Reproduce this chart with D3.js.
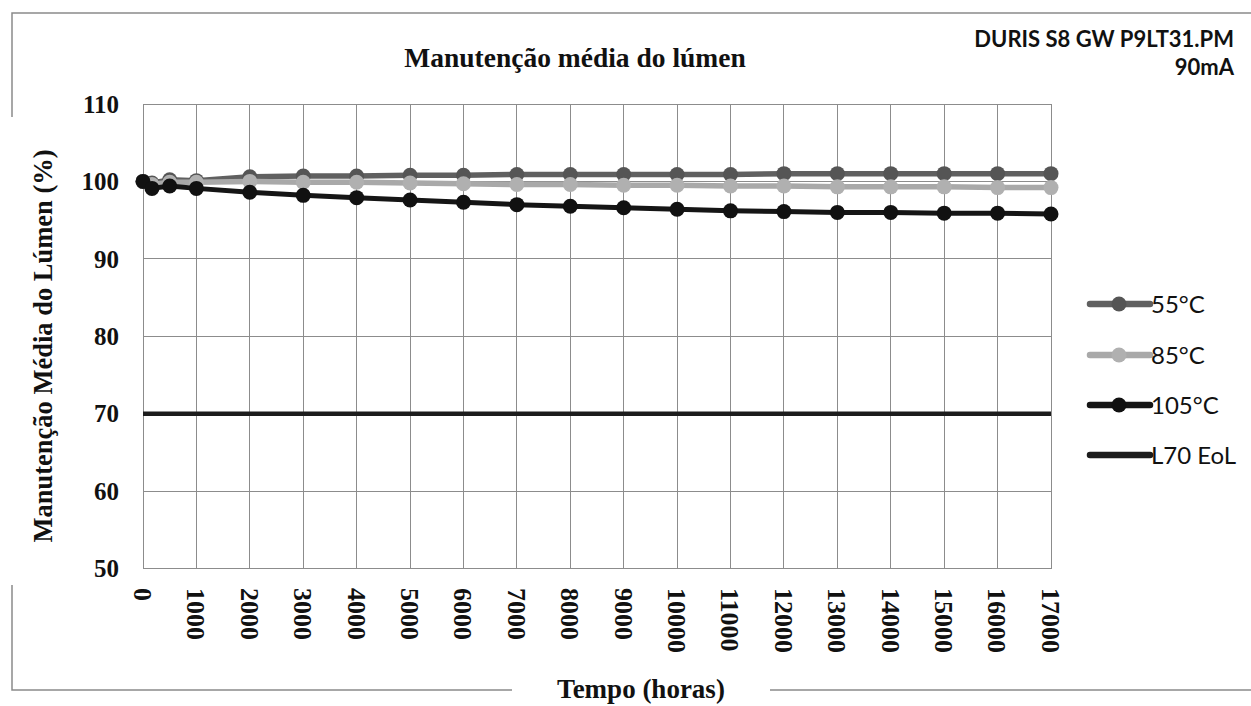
<!DOCTYPE html>
<html>
<head>
<meta charset="utf-8">
<script src="https://cdn.jsdelivr.net/npm/d3@7"></script>
<style>
  html, body { margin: 0; padding: 0; background: #fff; }
  svg { display: block; }
</style>
</head>
<body>
<svg id="chart" width="1251" height="706"></svg>
<script>
// ---- data ----
const hours = [0, 168, 500, 1000, 2000, 3000, 4000, 5000, 6000, 7000, 8000, 9000, 10000, 11000, 12000, 13000, 14000, 15000, 16000, 17000];
const s55  = [100, 99.8, 100.2, 100.1, 100.6, 100.7, 100.7, 100.8, 100.8, 100.9, 100.9, 100.9, 100.9, 100.9, 101.0, 101.0, 101.0, 101.0, 101.0, 101.0];
const s85  = [100, 99.6, 99.9, 99.9, 100.0, 99.9, 99.9, 99.8, 99.7, 99.6, 99.6, 99.5, 99.5, 99.4, 99.4, 99.3, 99.3, 99.3, 99.2, 99.2];
const s105 = [100, 99.1, 99.4, 99.1, 98.6, 98.2, 97.9, 97.6, 97.3, 97.0, 96.8, 96.6, 96.4, 96.2, 96.1, 96.0, 96.0, 95.9, 95.9, 95.8];
const l70Hours = [0, 17000];
const l70 = [70, 70];
const seriesNames = ["55°C", "85°C", "105°C", "L70 EoL"];
const xTicks = d3.range(0, 17001, 1000);
const yTicks = [50, 60, 70, 80, 90, 100, 110];
const title = "Manutenção média do lúmen";
const xTitle = "Tempo (horas)";
const yTitle = "Manutenção Média do Lúmen (%)";
const noteLines = ["DURIS S8 GW P9LT31.PM", "90mA"];

// ---- layout ----
const svg = d3.select("#chart");
const serif = "'Liberation Serif', 'Times New Roman', serif";
const sans = "Lato, 'Open Sans', 'Liberation Sans', sans-serif";
const x = d3.scaleLinear().domain([0, 17000]).range([143, 1051]);
const y = d3.scaleLinear().domain([50, 110]).range([568.5, 104]);

// outer frame (with gaps around axis titles)
const frame = svg.append("g").attr("stroke", "#8a8a8a").attr("stroke-width", 1.5).attr("fill", "none");
frame.append("path").attr("d", "M12,117 L12,13 L1251,13");
frame.append("path").attr("d", "M12,585 L12,690 L512,690");
frame.append("path").attr("d", "M770,690 L1251,690");

// grid
const grid = svg.append("g").attr("stroke", "#8c8c8c").attr("stroke-width", 1).attr("shape-rendering", "crispEdges");
grid.selectAll("line.v").data(xTicks).join("line")
  .attr("x1", d => x(d)).attr("x2", d => x(d)).attr("y1", y(110)).attr("y2", y(50));
grid.selectAll("line.h").data(yTicks).join("line")
  .attr("y1", d => y(d)).attr("y2", d => y(d)).attr("x1", x(0)).attr("x2", x(17000));

// y axis tick labels
svg.append("g").selectAll("text").data(yTicks).join("text")
  .attr("x", 119).attr("y", d => y(d)).attr("dy", "0.35em")
  .attr("text-anchor", "end")
  .attr("font-family", serif).attr("font-weight", "bold").attr("font-size", 25)
  .attr("fill", "#111").text(d => d);

// x axis tick labels (rotated)
svg.append("g").selectAll("text").data(xTicks).join("text")
  .attr("transform", d => `translate(${x(d)},588) rotate(90)`)
  .attr("dy", "0.35em")
  .attr("text-anchor", "start")
  .attr("font-family", serif).attr("font-weight", "bold").attr("font-size", 26)
  .attr("fill", "#111").text(d => d);

// titles
svg.append("text").attr("x", 575).attr("y", 67).attr("text-anchor", "middle")
  .attr("font-family", serif).attr("font-weight", "bold").attr("font-size", 27.5)
  .attr("fill", "#111").text(title);
svg.append("text").attr("x", 641).attr("y", 698).attr("text-anchor", "middle")
  .attr("font-family", serif).attr("font-weight", "bold").attr("font-size", 27)
  .attr("fill", "#111").text(xTitle);
svg.append("text").attr("transform", "translate(52,346) rotate(-90)").attr("text-anchor", "middle")
  .attr("font-family", serif).attr("font-weight", "bold").attr("font-size", 26.5)
  .attr("fill", "#111").text(yTitle);

// note top-right
svg.append("text").attr("x", 1234).attr("y", 47).attr("text-anchor", "end")
  .attr("font-family", sans).attr("font-weight", "bold").attr("font-size", 22)
  .attr("fill", "#111").text(noteLines[0]);
svg.append("text").attr("x", 1234).attr("y", 75).attr("text-anchor", "end")
  .attr("font-family", sans).attr("font-weight", "bold").attr("font-size", 22)
  .attr("fill", "#111").text(noteLines[1]);

// series
const series = [
  { name: seriesNames[0], xs: hours, ys: s55, color: "#606060", marker: "#555", width: 5.5, r: 7.5 },
  { name: seriesNames[1], xs: hours, ys: s85, color: "#a9a9a9", marker: "#b0b0b0", width: 5.5, r: 7.5 },
  { name: seriesNames[2], xs: hours, ys: s105, color: "#151515", marker: "#111", width: 5, r: 7.5 },
  { name: seriesNames[3], xs: l70Hours, ys: l70, color: "#1c1c1c", marker: null, width: 4.5, r: 0 }
];
const line = d3.line().x(d => x(d[0])).y(d => y(d[1]));
series.forEach(s => {
  const pts = s.xs.map((h, i) => [h, s.ys[i]]);
  svg.append("path").datum(pts).attr("d", line)
    .attr("fill", "none").attr("stroke", s.color).attr("stroke-width", s.width)
    .attr("stroke-linejoin", "round");
  if (s.marker) {
    svg.append("g").selectAll("circle").data(pts).join("circle")
      .attr("cx", d => x(d[0])).attr("cy", d => y(d[1])).attr("r", s.r)
      .attr("fill", s.marker);
  }
});

// legend
const legendY = [304, 355, 405, 455];
const lg = svg.append("g");
series.forEach((s, i) => {
  const ly = legendY[i];
  lg.append("line").attr("x1", 1090).attr("x2", 1150).attr("y1", ly).attr("y2", ly)
    .attr("stroke", s.color).attr("stroke-width", 6.5).attr("stroke-linecap", "round");
  if (s.marker) {
    lg.append("circle").attr("cx", 1119).attr("cy", ly).attr("r", 7.5).attr("fill", s.marker);
  }
  lg.append("text").attr("x", 1151).attr("y", ly).attr("dy", "0.36em")
    .attr("font-family", sans).attr("font-size", 24).attr("fill", "#111").text(s.name);
});
</script>
</body>
</html>
